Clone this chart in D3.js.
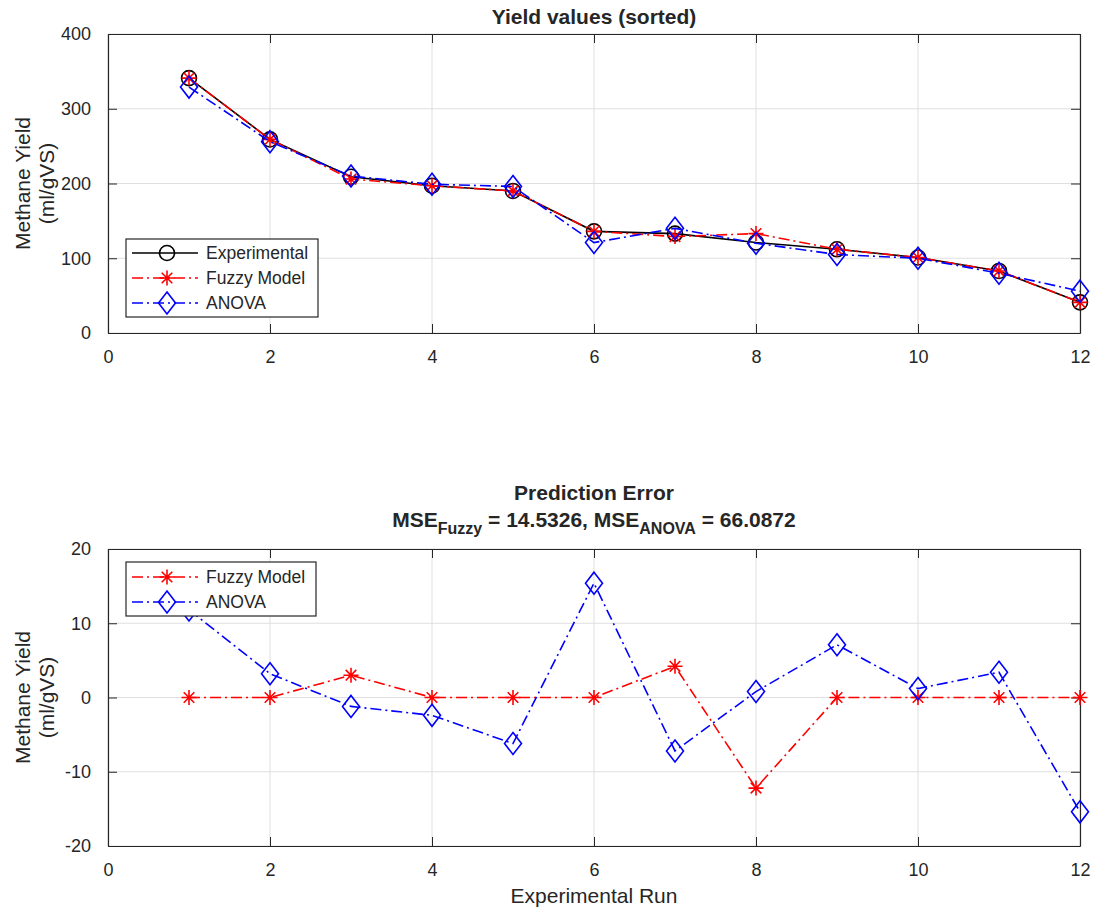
<!DOCTYPE html>
<html>
<head>
<meta charset="utf-8">
<script src="https://cdn.jsdelivr.net/npm/d3@7"></script>
<style>
  html, body { margin: 0; padding: 0; background: #fff; }
  svg { display: block; font-family: "Liberation Sans", Arial, Helvetica, sans-serif; }
</style>
</head>
<body>
<svg id="chart" width="1094" height="909"></svg>
<script>
// ---------- DATA ----------
const runs = [1, 2, 3, 4, 5, 6, 7, 8, 9, 10, 11, 12];
const experimental = [341, 259, 209, 197, 190, 136, 133, 121, 112, 101, 83, 41];
const fuzzyModel   = [341, 259, 206, 197, 190, 136, 129, 133, 112, 101, 83, 41];
const anovaModel   = [329, 256, 210, 199, 196, 121, 140, 120, 105, 100, 80, 56];
const fuzzyError   = [0, 0, 3.0, 0, 0, 0, 4.2, -12.2, 0, 0, 0, 0];
const anovaError   = [11.8, 3.2, -1.2, -2.4, -6.2, 15.4, -7.2, 0.8, 7.1, 1.2, 3.4, -15.4];
const xTicks = [0, 2, 4, 6, 8, 10, 12];
const yTicksTop = [0, 100, 200, 300, 400];
const yTicksBottom = [-20, -10, 0, 10, 20];
const seriesNames = ["Experimental", "Fuzzy Model", "ANOVA"];
const topTitle = "Yield values (sorted)";
const bottomTitle = "Prediction Error";
const mseFuzzy = "14.5326", mseAnova = "66.0872";
const yLabelLines = ["Methane Yield", "(ml/gVS)"];
const xLabel = "Experimental Run";

// ---------- STYLE ----------
const axColor = "#262626";
const gridColor = "#dfdfdf";
const tickFont = 18;
const labelFont = 21;
const legendFont = 17.5;
const dashDot = "11,4,2,4";

const svg = d3.select("#chart");

function starPath(r) {
  const d = r * Math.SQRT1_2;
  return `M${-r},0L${r},0M0,${-r}L0,${r}M${-d},${-d}L${d},${d}M${-d},${d}L${d},${-d}`;
}
function diamondPath(w, h) {
  return `M0,${-h}L${w},0L0,${h}L${-w},0Z`;
}
function circlePath(r) {
  return `M${r},0A${r},${r},0,1,1,${-r},0A${r},${r},0,1,1,${r},0Z`;
}
const styles = {
  exp:   { color: "#000000", dash: null,    marker: circlePath(7.5), fill: "none" },
  fuzzy: { color: "#ff0000", dash: dashDot, marker: starPath(7.5),   fill: "none" },
  anova: { color: "#0000ff", dash: dashDot, marker: diamondPath(8.5, 11), fill: "none" }
};
const fmt = d => String(d);

function drawPanel(opts) {
  const { left, right, top, bottom, yDomain, yTicks, series, title, legend, showXLabel } = opts;
  const g = svg.append("g");
  const x = d3.scaleLinear().domain([0, 12]).range([left, right]);
  const y = d3.scaleLinear().domain(yDomain).range([bottom, top]);

  // grid
  g.append("g").selectAll("line").data(xTicks).join("line")
    .attr("x1", d => x(d)).attr("x2", d => x(d)).attr("y1", top).attr("y2", bottom)
    .attr("stroke", gridColor).attr("stroke-width", 1);
  g.append("g").selectAll("line").data(yTicks).join("line")
    .attr("x1", left).attr("x2", right).attr("y1", d => y(d)).attr("y2", d => y(d))
    .attr("stroke", gridColor).attr("stroke-width", 1);

  // axes with inward ticks
  const tl = 9;
  const xb = g.append("g").attr("transform", `translate(0,${bottom})`)
    .call(d3.axisBottom(x).tickValues(xTicks).tickFormat(fmt).tickSizeInner(-tl).tickSizeOuter(0).tickPadding(tl + 8));
  const xt = g.append("g").attr("transform", `translate(0,${top})`)
    .call(d3.axisTop(x).tickValues(xTicks).tickSizeInner(-tl).tickSizeOuter(0).tickFormat(""));
  const yl = g.append("g").attr("transform", `translate(${left},0)`)
    .call(d3.axisLeft(y).tickValues(yTicks).tickFormat(fmt).tickSizeInner(-tl).tickSizeOuter(0).tickPadding(tl + 8));
  const yr = g.append("g").attr("transform", `translate(${right},0)`)
    .call(d3.axisRight(y).tickValues(yTicks).tickSizeInner(-tl).tickSizeOuter(0).tickFormat(""));
  [xb, xt, yl, yr].forEach(a => {
    a.select(".domain").attr("stroke", axColor).attr("stroke-width", 1.2);
    a.selectAll(".tick line").attr("stroke", axColor).attr("stroke-width", 1);
    a.selectAll(".tick text").attr("fill", axColor).attr("font-size", tickFont)
      .attr("font-family", "Liberation Sans, Arial, sans-serif");
  });

  // series
  series.forEach(s => {
    const st = styles[s.style];
    const line = d3.line().x((d, i) => x(runs[i])).y(d => y(d));
    g.append("path").datum(s.values).attr("d", line)
      .attr("fill", "none").attr("stroke", st.color).attr("stroke-width", 1.6)
      .attr("stroke-dasharray", st.dash);
    g.append("g").selectAll("path").data(s.values).join("path")
      .attr("transform", (d, i) => `translate(${x(runs[i])},${y(d)})`)
      .attr("d", st.marker).attr("fill", st.fill).attr("stroke", st.color).attr("stroke-width", 1.6);
  });

  // title
  if (title) title(g, (left + right) / 2, top);

  // y label
  const yc = (top + bottom) / 2;
  const yt = g.append("text").attr("transform", `translate(0,${yc}) rotate(-90)`)
    .attr("text-anchor", "middle").attr("fill", axColor).attr("font-size", labelFont);
  yt.append("tspan").attr("x", 0).attr("y", 30).text(yLabelLines[0]);
  yt.append("tspan").attr("x", 0).attr("y", 54).text(yLabelLines[1]);

  if (showXLabel) {
    g.append("text").attr("x", (left + right) / 2).attr("y", bottom + 57)
      .attr("text-anchor", "middle").attr("fill", axColor).attr("font-size", labelFont).text(xLabel);
  }

  // legend
  const lg = g.append("g");
  lg.append("rect").attr("x", legend.x).attr("y", legend.y).attr("width", legend.w).attr("height", legend.h)
    .attr("fill", "#fff").attr("stroke", axColor).attr("stroke-width", 1.2);
  legend.items.forEach((it, i) => {
    const st = styles[it.style];
    const cy = legend.y + legend.first + i * legend.step;
    lg.append("line").attr("x1", legend.x + 6).attr("x2", legend.x + 72).attr("y1", cy).attr("y2", cy)
      .attr("stroke", st.color).attr("stroke-width", 1.6).attr("stroke-dasharray", st.dash);
    lg.append("path").attr("transform", `translate(${legend.x + 41},${cy})`).attr("d", st.marker)
      .attr("fill", "none").attr("stroke", st.color).attr("stroke-width", 1.6);
    lg.append("text").attr("x", legend.x + 80).attr("y", cy).attr("dy", "0.35em")
      .attr("fill", axColor).attr("font-size", legendFont).text(it.name);
  });
}

drawPanel({
  left: 108, right: 1080, top: 34, bottom: 333,
  yDomain: [0, 400], yTicks: yTicksTop,
  series: [
    { values: experimental, style: "exp" },
    { values: fuzzyModel, style: "fuzzy" },
    { values: anovaModel, style: "anova" }
  ],
  title: (g, cx, top) => {
    g.append("text").attr("x", cx).attr("y", top - 10).attr("text-anchor", "middle")
      .attr("font-weight", "bold").attr("font-size", labelFont).attr("fill", axColor).text(topTitle);
  },
  legend: { x: 126, y: 239, w: 192, h: 78, first: 14, step: 25,
    items: [
      { name: seriesNames[0], style: "exp" },
      { name: seriesNames[1], style: "fuzzy" },
      { name: seriesNames[2], style: "anova" }
    ] },
  showXLabel: false
});

drawPanel({
  left: 108, right: 1080, top: 549, bottom: 846,
  yDomain: [-20, 20], yTicks: yTicksBottom,
  series: [
    { values: fuzzyError, style: "fuzzy" },
    { values: anovaError, style: "anova" }
  ],
  title: (g, cx, top) => {
    g.append("text").attr("x", cx).attr("y", top - 49).attr("text-anchor", "middle")
      .attr("font-weight", "bold").attr("font-size", labelFont).attr("fill", axColor).text(bottomTitle);
    const t = g.append("text").attr("x", cx).attr("y", top - 22).attr("text-anchor", "middle")
      .attr("font-weight", "bold").attr("font-size", labelFont).attr("fill", axColor);
    t.append("tspan").text("MSE");
    t.append("tspan").attr("dy", 7).attr("font-size", 16).text("Fuzzy");
    t.append("tspan").attr("dy", -7).text(" = " + mseFuzzy + ", MSE");
    t.append("tspan").attr("dy", 7).attr("font-size", 16).text("ANOVA");
    t.append("tspan").attr("dy", -7).text(" = " + mseAnova);
  },
  legend: { x: 126, y: 562, w: 190, h: 54, first: 15, step: 25,
    items: [
      { name: seriesNames[1], style: "fuzzy" },
      { name: seriesNames[2], style: "anova" }
    ] },
  showXLabel: true
});
</script>
</body>
</html>
